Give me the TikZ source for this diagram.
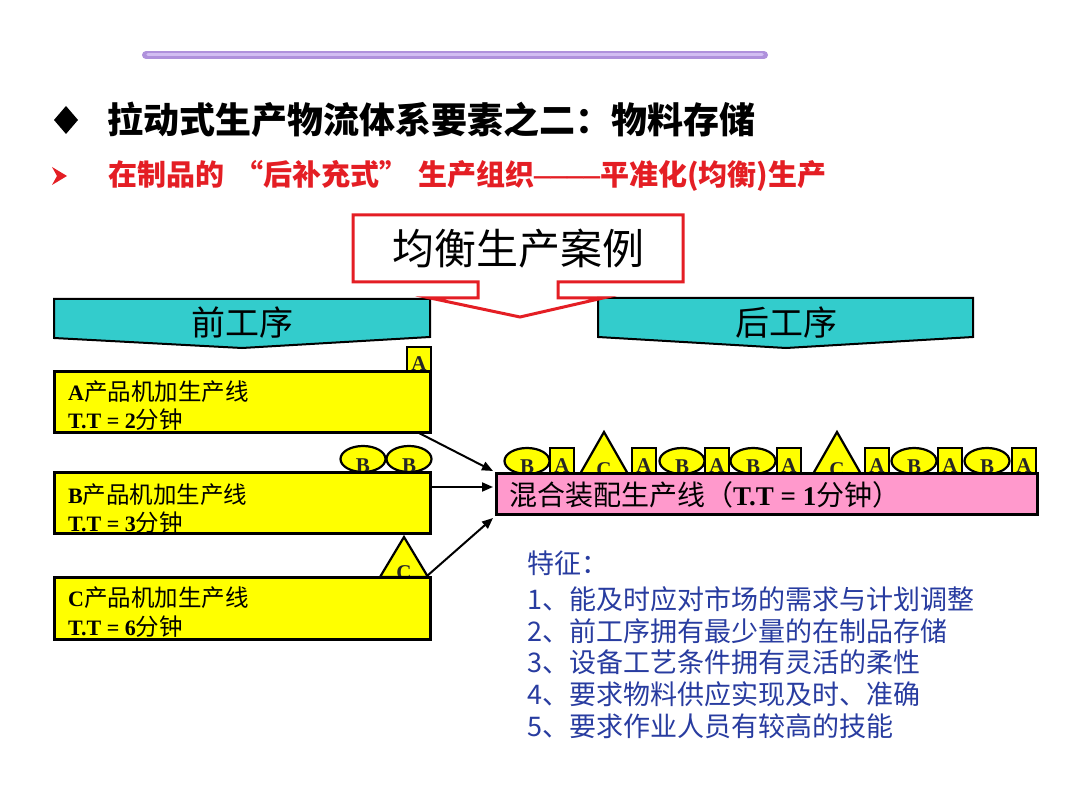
\documentclass[tikz,border=0pt]{standalone}
\usepackage{fontspec}
\setmainfont{Liberation Serif}
\newfontfamily\cjk{Noto Sans CJK SC}
\usetikzlibrary{arrows.meta,calc}
\definecolor{cyanbox}{RGB}{51,204,204}
\definecolor{pinkbox}{RGB}{255,153,204}
\definecolor{ybox}{RGB}{255,255,0}
\definecolor{redline}{RGB}{228,30,36}
\definecolor{featblue}{RGB}{40,60,160}
\definecolor{purpout}{RGB}{175,145,220}
\definecolor{purpin}{RGB}{210,190,242}
\tikzset{
  shapeline/.style={draw=black,line width=2.2pt,fill=ybox},
  letter/.style={font=\bfseries\fontsize{21}{21}\selectfont,anchor=base,inner sep=0pt,text=black!85},
  yellowbox/.style={draw=black,line width=3pt,fill=ybox,anchor=north west,minimum width=376pt,minimum height=61pt,inner sep=0pt,outer sep=0pt},
  boxtext/.style={anchor=west,inner sep=0pt,font=\fontsize{22}{22}\selectfont},
  cyanshape/.style={draw=black,line width=2pt,fill=cyanbox},
  calloutshape/.style={draw=redline,line width=3pt,fill=white,line join=miter},
  conn/.style={draw=black,line width=2pt,-{Triangle[length=11pt,width=9pt]}},
  feat/.style={anchor=west,inner sep=0pt,text=featblue,font=\cjk\fontsize{27}{27}\selectfont},
}
\newcommand\sqA[2]{\draw[shapeline] (#1,#2) rectangle ++(24,26);
  \node[letter] at (#1+12,#2+24) {A};}
\newcommand\ellB[2]{\draw[shapeline] (#1,#2) ellipse [x radius=22.5pt,y radius=13pt];
  \node[letter] at (#1,#2+13) {B};}
\newcommand\triC[3]{\draw[shapeline] (#1,#2) -- (#1+48,#2) -- (#1+24,#2-#3) -- cycle;
  \node[letter] at (#1+24,#2+2.5) {C};}
\newcommand\cjkline[1]{{\cjk\fontsize{23.5}{23.5}\selectfont #1}}
\begin{document}
\begin{tikzpicture}[x=1pt,y=-1pt]
\useasboundingbox[fill=white] (0,0) rectangle (1080,810);
% top bar
\draw[purpout,line width=8pt,line cap=round] (146,55) -- (764,55);
\draw[purpin,line width=3.5pt,line cap=round] (148,54.5) -- (762,54.5);
% title
\fill[black] (66,106) -- (78,120) -- (66,134) -- (54,120) -- cycle;
\node[anchor=west,inner sep=0pt,font=\cjk\bfseries\fontsize{36}{36}\selectfont] (title) at (107,120) {拉动式生产物流体系要素之二：物料存储};
\fill[redline] (52,167) -- (67,176) -- (52,185) -- (57,176) -- cycle;
\node[anchor=west,inner sep=0pt,text=redline,font=\cjk\bfseries\fontsize{29}{30}\selectfont] (subtitle) at (108,176) {在制品的\hspace{10pt}“后补充式”\hspace{10pt}生产组织{\fontspec{Liberation Serif}\bfseries\fontsize{33}{33}\selectfont ––––}平准化(均衡)生产};
% cyan boxes
\draw[cyanshape] (54,299) -- (430,299) -- (430,337) -- (242,348) -- (54,338) -- cycle;
\node[font=\cjk\fontsize{34}{34}\selectfont,inner sep=0pt] (pre) at (242,323) {前工序};
\draw[cyanshape] (598,298) -- (973,298) -- (973,337) -- (786,348) -- (598,337) -- cycle;
\node[font=\cjk\fontsize{34}{34}\selectfont,inner sep=0pt] (post) at (786,323) {后工序};
% callout
\draw[calloutshape] (353,282) -- (478,282) -- (478,298) -- (430,298) -- (520,317) -- (603,298) -- (558,298) -- (558,282) -- (683,282) -- (683,215) -- (353,215) -- cycle;
\node[font=\cjk\fontsize{42}{42}\selectfont,inner sep=0pt] (case) at (518,249) {均衡生产案例};
% small shapes on the left
\sqA{407}{347}
\ellB{363}{459}
\ellB{409}{459}
\triC{380}{577}{40}
\coordinate (triCr) at (427,576);
% yellow boxes
\node[yellowbox] (boxA) at (54,372) {};
\node[boxtext] (tA1) at (68,392) {{\bfseries A}\cjkline{产品机加生产线}};
\node[boxtext] (tA2) at (68,420) {{\bfseries T.T = 2}\cjkline{分钟}};
\node[yellowbox,minimum height=60pt] (boxB) at (54,473) {};
\node[boxtext] (tB1) at (68,495) {{\bfseries B}\cjkline{产品机加生产线}};
\node[boxtext] (tB2) at (68,523) {{\bfseries T.T = 3}\cjkline{分钟}};
\node[yellowbox,minimum height=62pt] (boxC) at (54,577) {};
\node[boxtext] (tC1) at (68,598) {{\bfseries C}\cjkline{产品机加生产线}};
\node[boxtext] (tC2) at (68,627) {{\bfseries T.T = 6}\cjkline{分钟}};
% mixed line shapes
\ellB{527}{461}
\sqA{550}{448}
\triC{580}{474}{42}
\sqA{632}{448}
\ellB{682}{461}
\sqA{705}{448}
\ellB{753}{461}
\sqA{777}{448}
\triC{813}{474}{42}
\sqA{865}{448}
\ellB{914}{461}
\sqA{938}{448}
\ellB{987}{461}
\sqA{1012}{448}
% pink box
\node[draw=black,line width=3pt,fill=pinkbox,anchor=north west,minimum width=541pt,minimum height=40pt,inner sep=0pt,outer sep=0pt] (mix) at (496,474) {};
\node[anchor=west,inner sep=0pt,font=\fontsize{27}{27}\selectfont] (mixt) at (509,495) {{\cjk\fontsize{28}{28}\selectfont 混合装配生产线（}{\bfseries T.T = 1}{\cjk\fontsize{28}{28}\selectfont 分钟）}};
% connectors
\draw[conn] ($(boxA.south east)+(-11,0)$) -- ($(mix.north west)+(-3,-3)$);
\draw[conn] ($(boxB.north east)+(0,14)$) -- ($(mix.north west)+(-3,13)$);
\draw[conn] (triCr) -- ($(mix.south west)+(-3,4)$);
% features
\node[feat] (f0) at (527,563) {特征：};
\node[feat] (f1) at (527,599) {1、能及时应对市场的需求与计划调整};
\node[feat] (f2) at (527,631) {2、前工序拥有最少量的在制品存储};
\node[feat] (f3) at (527,662) {3、设备工艺条件拥有灵活的柔性};
\node[feat] (f4) at (527,694) {4、要求物料供应实现及时、准确};
\node[feat] (f5) at (527,726) {5、要求作业人员有较高的技能};
\end{tikzpicture}
\end{document}
